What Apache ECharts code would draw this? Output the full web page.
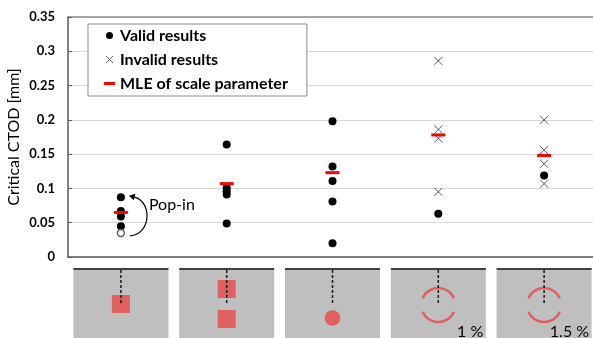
<!DOCTYPE html>
<html>
<head>
<meta charset="utf-8">
<script src="https://cdn.jsdelivr.net/npm/echarts@6/dist/echarts.min.js"></script>
<style>
  html, body { margin: 0; padding: 0; background: #fff; }
  #chart { width: 593px; height: 338px; }
</style>
</head>
<body>
<div id="chart"></div>
<script>
// specimen configurations (shown as sketches under the axis)
const categories = ['Square', 'Two squares', 'Circle', 'Ring 1 %', 'Ring 1.5 %'];
const validResults = [
  [0.087, 0.067, 0.059, 0.045],
  [0.164, 0.101, 0.096, 0.091, 0.049],
  [0.198, 0.132, 0.111, 0.081, 0.020],
  [0.063],
  [0.119],
];
const popInResults = [[0.035], [], [], [], []];
const invalidResults = [
  [], [], [],
  [0.286, 0.186, 0.173, 0.095],
  [0.200, 0.156, 0.136, 0.107],
];
const mleScale = [0.065, 0.107, 0.123, 0.178, 0.148];
const yMin = 0, yMax = 0.35, yStep = 0.05;
const sketchLabels = ['', '', '', '1 %', '1.5 %'];

const FONT = 'Lato, "Liberation Sans", sans-serif';
const SKETCH_RED = '#e06060';
const CROSS = 'path://M0,0L8,8M8,0L0,8';

function toPoints(groups) {
  return groups.flatMap((vals, i) => vals.map(v => [i, v]));
}

const chart = echarts.init(document.getElementById('chart'));

chart.setOption({
  animation: false,
  grid: { left: 68, top: 17, right: -4, bottom: 81, containLabel: false, outerBoundsMode: 'none' },
  legend: {
    left: 88, top: 24, orient: 'vertical',
    padding: [3, 19, 4, 16], itemGap: 7, itemWidth: 11, itemHeight: 7,
    borderColor: '#8c8c8c', borderWidth: 1, backgroundColor: '#fff',
    textStyle: { fontFamily: FONT, fontWeight: 'bold', fontSize: 16, lineHeight: 17, color: '#000' },
    data: [
      { name: 'Valid results', icon: 'circle', itemStyle: { opacity: 1 } },
      { name: 'Invalid results', icon: CROSS, itemStyle: { color: '#595959', borderColor: '#595959', borderWidth: 1, opacity: 1 } },
      { name: 'MLE of scale parameter', icon: 'path://M0,0h11v3h-11z', itemStyle: { opacity: 1 } },
    ],
  },
  xAxis: [
    {
      type: 'category', data: categories, position: 'bottom',
      axisLine: { lineStyle: { color: '#595959', width: 1.5 } },
      axisTick: { inside: true, length: 6, lineStyle: { color: '#595959' } },
      axisLabel: { show: false },
    },
    {
      type: 'category', data: categories, position: 'top',
      axisLine: { lineStyle: { color: '#8c8c8c', width: 1.5 } },
      axisTick: { show: false }, axisLabel: { show: false },
    },
  ],
  yAxis: {
    type: 'value', min: yMin, max: yMax, interval: yStep,
    name: 'Critical CTOD [mm]', nameLocation: 'middle', nameGap: 46, nameMoveOverlap: false,
    nameTextStyle: { fontFamily: FONT, fontSize: 16, color: '#000' },
    axisLine: { show: true, lineStyle: { color: '#595959', width: 1.5 } },
    axisTick: { show: true, inside: true, length: 4, lineStyle: { color: '#595959' } },
    axisLabel: { fontFamily: FONT, fontWeight: 'bold', fontSize: 13, color: '#000', margin: 13 },
    splitLine: { lineStyle: { color: '#d9d9d9' } },
  },
  series: [
    {
      name: 'Valid results', type: 'scatter', symbol: 'circle', symbolSize: 8,
      itemStyle: { color: '#000', opacity: 1 }, data: toPoints(validResults), z: 3,
    },
    {
      name: 'Pop-in', type: 'scatter', symbol: 'circle', symbolSize: 7,
      itemStyle: { color: '#fff', borderColor: '#595959', borderWidth: 1.3, opacity: 1 },
      data: toPoints(popInResults), z: 3,
    },
    {
      name: 'Invalid results', type: 'scatter', symbol: CROSS, symbolSize: 8,
      itemStyle: { color: '#595959', borderColor: '#595959', borderWidth: 1, opacity: 1 },
      data: toPoints(invalidResults), z: 3,
    },
    {
      name: 'MLE of scale parameter', type: 'scatter', symbol: 'rect', symbolSize: [14, 3],
      itemStyle: { color: '#ff0000', opacity: 1 }, data: mleScale.map((v, i) => [i, v]), z: 4,
    },
  ],
});

// annotation + specimen sketches, placed from the axes
const px = (i, v) => chart.convertToPixel({ gridIndex: 0 }, [i, v]);
const graphics = [];

const p0 = px(0, popInResults[0][0]);
const p1 = px(0, validResults[0][0]);
const tip = [p1[0] + 8, p1[1] - 1.5];
graphics.push({
  type: 'bezierCurve', z: 10,
  shape: {
    x1: p0[0] + 9, y1: p0[1] + 3, x2: tip[0] + 5.5, y2: tip[1] + 1.2,
    cpx1: p0[0] + 31, cpy1: p0[1] + 1, cpx2: p1[0] + 31, cpy2: p1[1] + 4,
  },
  style: { stroke: '#000', lineWidth: 1.2, fill: null },
});
graphics.push({
  type: 'polygon', z: 10,
  shape: { points: [tip, [tip[0] + 6.5, tip[1] - 2], [tip[0] + 5, tip[1] + 4.5]] },
  style: { fill: '#000' },
});
graphics.push({
  type: 'text', z: 10, x: p1[0] + 28, y: p1[1] + 8,
  style: { text: 'Pop-in', font: '16px ' + FONT, fill: '#000', verticalAlign: 'middle' },
});

const baseY = px(0, 0)[1];
categories.forEach((c, i) => {
  const cx = px(i, 0)[0];
  const top = baseY + 11;
  const w = 95;
  graphics.push({ type: 'rect', z: 1, shape: { x: cx - w / 2, y: top, width: w, height: 80 }, style: { fill: '#bfbfbf' } });
  graphics.push({ type: 'line', z: 2, shape: { x1: cx - w / 2, y1: top + 1, x2: cx + w / 2, y2: top + 1 }, style: { stroke: '#404040', lineWidth: 2 } });
  if (i === 0) {
    graphics.push({ type: 'rect', z: 2, shape: { x: cx - 9, y: top + 27, width: 18, height: 18 }, style: { fill: SKETCH_RED } });
  } else if (i === 1) {
    graphics.push({ type: 'rect', z: 2, shape: { x: cx - 9, y: top + 12, width: 18, height: 18 }, style: { fill: SKETCH_RED } });
    graphics.push({ type: 'rect', z: 2, shape: { x: cx - 9, y: top + 42, width: 18, height: 18 }, style: { fill: SKETCH_RED } });
  } else if (i === 2) {
    graphics.push({ type: 'circle', z: 2, shape: { cx: cx, cy: top + 50, r: 7.8 }, style: { fill: SKETCH_RED } });
  } else {
    const cy = top + 37, r = 17, a = 23 * Math.PI / 180;
    graphics.push({ type: 'arc', z: 2, shape: { cx, cy, r, startAngle: -Math.PI + a, endAngle: -a, clockwise: true }, style: { stroke: SKETCH_RED, lineWidth: 2.5, fill: null } });
    graphics.push({ type: 'arc', z: 2, shape: { cx, cy, r, startAngle: a, endAngle: Math.PI - a, clockwise: true }, style: { stroke: SKETCH_RED, lineWidth: 2.5, fill: null } });
  }
  graphics.push({ type: 'line', z: 3, shape: { x1: cx, y1: top + 2, x2: cx, y2: top + 35 }, style: { stroke: '#1a1a1a', lineWidth: 1.5, lineDash: [3, 2] } });
  if (sketchLabels[i]) {
    graphics.push({
      type: 'text', z: 3, x: cx + 45, y: 340,
      style: { text: sketchLabels[i], font: '16px ' + FONT, fill: '#000', align: 'right', verticalAlign: 'bottom' },
    });
  }
});

chart.setOption({ graphic: graphics });
</script>
</body>
</html>
